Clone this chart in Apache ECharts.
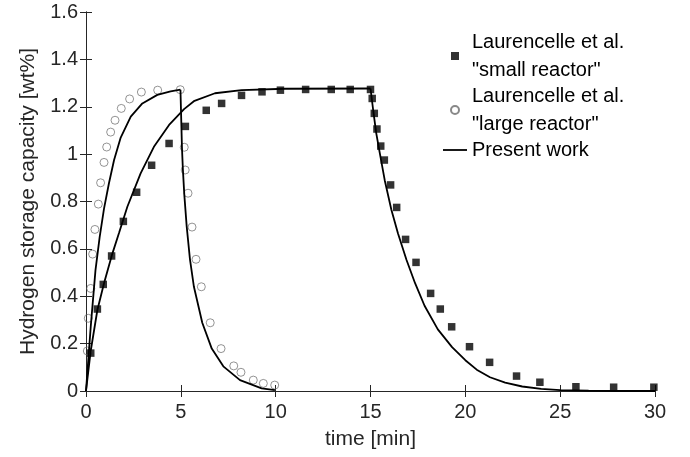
<!DOCTYPE html>
<html>
<head>
<meta charset="utf-8">
<script src="https://cdn.jsdelivr.net/npm/echarts@6/dist/echarts.min.js"></script>
<style>
  html, body { margin: 0; padding: 0; background: #fff; }
  #chart { width: 690px; height: 457px; }
</style>
</head>
<body>
<div id="chart"></div>
<script>
// Measured hydrogen uptake/release, small reactor (time in min, capacity in wt%)
const smallT = [0.25, 0.6, 0.91, 1.35, 1.97, 2.67, 3.46, 4.38, 5.24, 6.34, 7.15, 8.2, 9.28, 10.25,
  11.58, 12.93, 13.93, 15.0, 15.09, 15.2, 15.34, 15.54, 15.73, 16.06, 16.38, 16.85, 17.4, 18.17,
  18.68, 19.28, 20.22, 21.28, 22.7, 23.93, 25.83, 27.82, 29.94];
const smallW = [0.16, 0.346, 0.45, 0.57, 0.716, 0.839, 0.953, 1.045, 1.117, 1.185, 1.214, 1.248, 1.263, 1.27,
  1.273, 1.273, 1.273, 1.273, 1.235, 1.172, 1.106, 1.034, 0.975, 0.87, 0.775, 0.64, 0.543, 0.412,
  0.346, 0.271, 0.187, 0.121, 0.063, 0.037, 0.018, 0.016, 0.016];

// Measured hydrogen uptake/release, large reactor
const largeT = [0.07, 0.12, 0.25, 0.35, 0.47, 0.65, 0.77, 0.95, 1.09, 1.3, 1.53, 1.86, 2.3, 2.92, 3.78,
  4.97, 5.18, 5.23, 5.38, 5.59, 5.8, 6.08, 6.55, 7.12, 7.79, 8.17, 8.82, 9.35, 9.95];
const largeW = [0.169, 0.307, 0.433, 0.578, 0.682, 0.789, 0.879, 0.965, 1.03, 1.093, 1.143, 1.193, 1.233, 1.262, 1.27,
  1.272, 1.029, 0.933, 0.835, 0.692, 0.556, 0.44, 0.288, 0.179, 0.106, 0.079, 0.046, 0.032, 0.025];

// Model curves [time, capacity]
const modelSmallAbs = [[0, 0], [0.25, 0.17], [0.6, 0.342], [0.95, 0.455], [1.39, 0.58], [1.74, 0.667],
  [2.18, 0.778], [2.88, 0.919], [3.58, 1.031], [4.38, 1.123], [5.17, 1.19], [5.72, 1.225], [6.8, 1.257],
  [8.2, 1.27], [10.5, 1.276], [15.0, 1.277]];
const modelSmallDes = [[15.0, 1.277], [15.15, 1.18], [15.3, 1.09], [15.5, 1.0], [15.75, 0.89], [16.1, 0.765],
  [16.45, 0.665], [16.9, 0.553], [17.35, 0.455], [17.85, 0.36], [18.55, 0.26], [19.3, 0.185], [20.0, 0.13],
  [20.6, 0.09], [21.3, 0.058], [22.1, 0.035], [23.0, 0.019], [24.0, 0.009], [25.0, 0.004], [26.5, 0.001],
  [28.0, 0], [30.0, 0]];
const modelLargeAbs = [[0, 0], [0.25, 0.272], [0.5, 0.51], [0.72, 0.65], [0.95, 0.77], [1.21, 0.877],
  [1.48, 0.975], [1.83, 1.07], [2.36, 1.158], [2.97, 1.214], [3.76, 1.25], [4.46, 1.265], [4.98, 1.272]];
const modelLargeDes = [[4.98, 1.272], [5.06, 1.026], [5.11, 0.933], [5.18, 0.832], [5.31, 0.694],
  [5.48, 0.557], [5.69, 0.44], [6.13, 0.288], [6.63, 0.179], [7.24, 0.104], [8.12, 0.046], [9.26, 0.011],
  [9.96, 0.004]];

const nameSmall = 'Laurencelle et al.\n"small reactor"';
const nameLarge = 'Laurencelle et al.\n"large reactor"';
const nameModel = 'Present work';

const FONT = '"Liberation Sans", Arial, sans-serif';
const AXIS_COLOR = '#262626';

function zip(t, w) { return t.map((x, i) => [x, w[i]]); }

function modelSeries(data) {
  return {
    name: nameModel, type: 'line', data: data,
    symbol: 'none', showSymbol: false, smooth: false,
    lineStyle: { color: '#000', width: 1.8 },
    itemStyle: { color: '#000' },
    z: 3, silent: true
  };
}

const boxAxis = {
  axisLine: { show: true, lineStyle: { color: AXIS_COLOR, width: 1 } },
  axisTick: { show: true, inside: true, length: 6, lineStyle: { color: AXIS_COLOR, width: 1 } },
  splitLine: { show: false }
};

const chart = echarts.init(document.getElementById('chart'), null, { renderer: 'canvas' });
chart.setOption({
  animation: false,
  backgroundColor: '#fff',
  textStyle: { fontFamily: FONT },
  grid: { left: 86, right: 35, top: 12, bottom: 66 },
  xAxis: [
    Object.assign({
      type: 'value', min: 0, max: 30, interval: 5, position: 'bottom',
      name: 'time [min]', nameLocation: 'middle', nameGap: 38,
      nameTextStyle: { fontSize: 21, color: AXIS_COLOR, fontFamily: FONT },
      axisLabel: { fontSize: 20, color: AXIS_COLOR, margin: 11, fontFamily: FONT }
    }, boxAxis),
    Object.assign({
      type: 'value', min: 0, max: 30, interval: 5, position: 'top',
      axisLabel: { show: false }
    }, boxAxis)
  ],
  yAxis: [
    Object.assign({
      type: 'value', min: 0, max: 1.6, interval: 0.2, position: 'left',
      name: 'Hydrogen storage capacity [wt%]', nameLocation: 'middle', nameGap: 47,
      nameTextStyle: { fontSize: 21, color: AXIS_COLOR, fontFamily: FONT },
      axisLabel: { fontSize: 20, color: AXIS_COLOR, margin: 8, fontFamily: FONT }
    }, boxAxis),
    Object.assign({
      type: 'value', min: 0, max: 1.6, interval: 0.2, position: 'right',
      axisLabel: { show: false }
    }, boxAxis)
  ],
  legend: {
    orient: 'vertical', left: 443, top: 28, padding: 0,
    itemWidth: 24, itemHeight: 8, itemGap: -2,
    symbolKeepAspect: true,
    textStyle: { fontSize: 20, lineHeight: 28, color: '#000', fontFamily: FONT },
    data: [
      { name: nameSmall, icon: 'path://M0,0H10V10H0Z' },
      { name: nameLarge, icon: 'circle' },
      { name: nameModel, icon: 'path://M0,0H24V1.8H0Z', itemStyle: { color: '#000' } }
    ]
  },
  series: [
    {
      name: nameSmall, type: 'scatter', data: zip(smallT, smallW),
      symbol: 'rect', symbolSize: 7.5,
      itemStyle: { color: '#000' }, z: 2
    },
    {
      name: nameLarge, type: 'scatter', data: zip(largeT, largeW),
      symbol: 'circle', symbolSize: 8,
      itemStyle: { color: 'rgba(0,0,0,0)', borderColor: '#6a6a6a', borderWidth: 0.9 }, z: 2
    },
    modelSeries(modelSmallAbs),
    modelSeries(modelSmallDes),
    modelSeries(modelLargeAbs),
    modelSeries(modelLargeDes)
  ]
});
</script>
</body>
</html>
